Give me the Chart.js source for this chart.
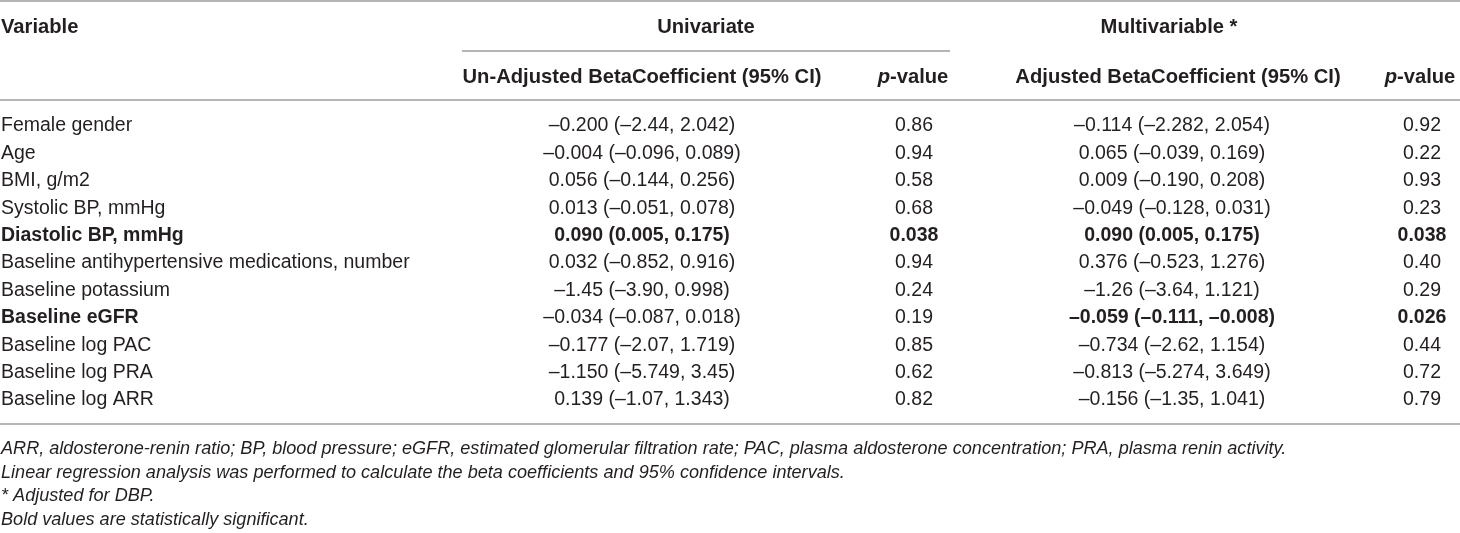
<!DOCTYPE html>
<html lang="en">
<head>
  <meta charset="UTF-8" />
  <title>Linear regression – beta coefficients</title>
  <script src="https://cdn.jsdelivr.net/npm/chart.js"></script>
  <style>
    html, body { margin: 0; padding: 0; background: #fff; }
    #wrap { width: 1460px; height: 533px; }
  </style>
</head>
<body>
  <div id="wrap"><canvas id="tabela"></canvas></div>

  <script>
    // --- dados da tabela ---
    const variables = [
      "Female gender", "Age", "BMI, g/m2", "Systolic BP, mmHg", "Diastolic BP, mmHg",
      "Baseline antihypertensive medications, number", "Baseline potassium", "Baseline eGFR",
      "Baseline log PAC", "Baseline log PRA", "Baseline log ARR"
    ];
    const uniBeta  = ["-0.200", "-0.004", "0.056", "0.013", "0.090", "0.032", "-1.45", "-0.034", "-0.177", "-1.150", "0.139"];
    const uniLow   = ["-2.44", "-0.096", "-0.144", "-0.051", "0.005", "-0.852", "-3.90", "-0.087", "-2.07", "-5.749", "-1.07"];
    const uniHigh  = ["2.042", "0.089", "0.256", "0.078", "0.175", "0.916", "0.998", "0.018", "1.719", "3.45", "1.343"];
    const uniP     = ["0.86", "0.94", "0.58", "0.68", "0.038", "0.94", "0.24", "0.19", "0.85", "0.62", "0.82"];
    const multiBeta = ["-0.114", "0.065", "0.009", "-0.049", "0.090", "0.376", "-1.26", "-0.059", "-0.734", "-0.813", "-0.156"];
    const multiLow  = ["-2.282", "-0.039", "-0.190", "-0.128", "0.005", "-0.523", "-3.64", "-0.111", "-2.62", "-5.274", "-1.35"];
    const multiHigh = ["2.054", "0.169", "0.208", "0.031", "0.175", "1.276", "1.121", "-0.008", "1.154", "3.649", "1.041"];
    const multiP    = ["0.92", "0.22", "0.93", "0.23", "0.038", "0.40", "0.29", "0.026", "0.44", "0.72", "0.79"];

    const groupTitles = ["Univariate", "Multivariable *"];
    const coefTitles = ["Un-Adjusted BetaCoefficient (95% CI)", "Adjusted BetaCoefficient (95% CI)"];
    const footnotes = [
      "ARR, aldosterone-renin ratio; BP, blood pressure; eGFR, estimated glomerular filtration rate; PAC, plasma aldosterone concentration; PRA, plasma renin activity.",
      "Linear regression analysis was performed to calculate the beta coefficients and 95% confidence intervals.",
      "* Adjusted for DBP.",
      "Bold values are statistically significant."
    ];

    // --- layout (pixels) ---
    const W = 1460, H = 533;
    const ROW0 = 126, ROWH = 27.4;
    const colX = { variable: 1, uniCoef: 642, uniP: 914, multiCoef: 1172, multiP: 1422 };
    const headY1 = 27, headY2 = 77;
    const noteY0 = 449, noteH = 23.5;
    const INK = "#231f20";
    const FONT = '19.5px "Liberation Sans", Arial, sans-serif';
    const HEAD_FONT = '20.2px "Liberation Sans", Arial, sans-serif';
    const NOTE_FONT = 'italic 18.1px "Liberation Sans", Arial, sans-serif';

    const toRow = px => (px - ROW0) / ROWH;
    const dash = s => s.replace(/-/g, "\u2013");
    const ci = (b, lo, hi) => b.map((v, i) => dash(`${v} (${lo[i]}, ${hi[i]})`));
    const sig = p => p.map(v => parseFloat(v) < 0.05);

    const uniSig = sig(uniP);
    const multiSig = sig(multiP);
    const varSig = variables.map((_, i) => uniSig[i] || multiSig[i]);

    function coluna(x, texts, bold, align) {
      return {
        data: texts.map((_, i) => ({ x: x, y: i })),
        texts: texts,
        bold: bold,
        align: align,
        pointRadius: 0,
        showLine: false
      };
    }

    const tabelaPlugin = {
      id: "tabela",
      beforeDraw(chart) {
        const { ctx, scales: { x, y } } = chart;
        ctx.save();
        ctx.fillStyle = "#fff";
        ctx.fillRect(0, 0, chart.width, chart.height);
        ctx.strokeStyle = "#9d9d9d";
        ctx.lineWidth = 1.5;
        const regras = [[1, 0, W], [51, 462, 950], [100, 0, W], [424, 0, W]];
        regras.forEach(([py, x0, x1]) => {
          const yy = y.getPixelForValue(toRow(py));
          ctx.beginPath();
          ctx.moveTo(x.getPixelForValue(x0), yy);
          ctx.lineTo(x.getPixelForValue(x1), yy);
          ctx.stroke();
        });
        ctx.restore();
      },
      afterDatasetsDraw(chart) {
        const { ctx, scales: { x, y } } = chart;
        ctx.save();
        ctx.fillStyle = INK;
        ctx.textBaseline = "middle";

        // celulas
        chart.data.datasets.forEach((ds, d) => {
          const meta = chart.getDatasetMeta(d);
          ctx.textAlign = ds.align;
          meta.data.forEach((pt, i) => {
            ctx.font = (ds.bold[i] ? "bold " : "") + FONT;
            ctx.fillText(ds.texts[i], pt.x, pt.y);
          });
        });

        // cabecalho
        const hy1 = y.getPixelForValue(toRow(headY1));
        const hy2 = y.getPixelForValue(toRow(headY2));
        ctx.font = "bold " + HEAD_FONT;
        ctx.textAlign = "left";
        ctx.fillText("Variable", x.getPixelForValue(colX.variable), hy1);
        ctx.textAlign = "center";
        ctx.fillText(groupTitles[0], x.getPixelForValue(706), hy1);
        ctx.fillText(groupTitles[1], x.getPixelForValue(1169), hy1);
        ctx.fillText(coefTitles[0], x.getPixelForValue(colX.uniCoef), hy2);
        ctx.fillText(coefTitles[1], x.getPixelForValue(1178), hy2);

        [913, 1420].forEach(cx => {
          ctx.font = "italic bold " + HEAD_FONT;
          const wp = ctx.measureText("p").width;
          ctx.font = "bold " + HEAD_FONT;
          const wr = ctx.measureText("-value").width;
          const x0 = Math.min(x.getPixelForValue(cx) - (wp + wr) / 2, W - 1 - wp - wr);
          ctx.textAlign = "left";
          ctx.font = "italic bold " + HEAD_FONT;
          ctx.fillText("p", x0, hy2);
          ctx.font = "bold " + HEAD_FONT;
          ctx.fillText("-value", x0 + wp, hy2);
        });

        // notas de rodape
        ctx.font = NOTE_FONT;
        ctx.textAlign = "left";
        footnotes.forEach((t, i) => {
          ctx.fillText(t, x.getPixelForValue(colX.variable), y.getPixelForValue(toRow(noteY0 + i * noteH)));
        });
        ctx.restore();
      }
    };

    new Chart(document.getElementById("tabela"), {
      type: "scatter",
      data: {
        datasets: [
          coluna(colX.variable, variables, varSig, "left"),
          coluna(colX.uniCoef, ci(uniBeta, uniLow, uniHigh), uniSig, "center"),
          coluna(colX.uniP, uniP, uniSig, "center"),
          coluna(colX.multiCoef, ci(multiBeta, multiLow, multiHigh), multiSig, "center"),
          coluna(colX.multiP, multiP, multiSig, "center")
        ]
      },
      options: {
        responsive: true,
        maintainAspectRatio: false,
        animation: false,
        layout: { padding: 0 },
        scales: {
          x: { type: "linear", display: false, min: 0, max: W },
          y: { type: "linear", display: false, reverse: true, min: toRow(0), max: toRow(H) }
        },
        plugins: { legend: { display: false }, tooltip: { enabled: false } }
      },
      plugins: [tabelaPlugin]
    });
  </script>
</body>
</html>
